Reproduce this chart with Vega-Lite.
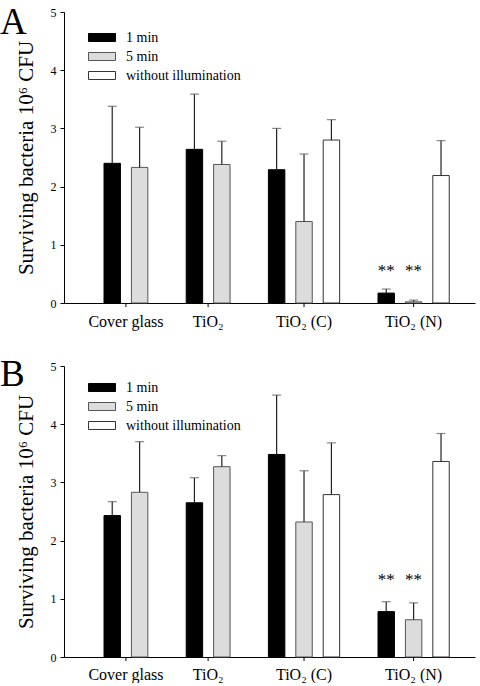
{
  "$schema": "https://vega.github.io/schema/vega-lite/v6.json",
  "padding": {"left": 0, "top": 4, "right": 5, "bottom": 0},
  "background": "white",
  "datasets": {
    "bars": [
      {"panel": "A", "group": "Cover glass", "series": "1 min", "bar": "CG-1", "value": 2.40, "upper": 3.38, "sig": ""},
      {"panel": "A", "group": "Cover glass", "series": "5 min", "bar": "CG-5", "value": 2.33, "upper": 3.02, "sig": ""},
      {"panel": "A", "group": "TiO2", "series": "1 min", "bar": "T-1", "value": 2.64, "upper": 3.59, "sig": ""},
      {"panel": "A", "group": "TiO2", "series": "5 min", "bar": "T-5", "value": 2.38, "upper": 2.78, "sig": ""},
      {"panel": "A", "group": "TiO2 (C)", "series": "1 min", "bar": "TC-1", "value": 2.29, "upper": 3.00, "sig": ""},
      {"panel": "A", "group": "TiO2 (C)", "series": "5 min", "bar": "TC-5", "value": 1.40, "upper": 2.56, "sig": ""},
      {"panel": "A", "group": "TiO2 (C)", "series": "without illumination", "bar": "TC-w", "value": 2.80, "upper": 3.15, "sig": ""},
      {"panel": "A", "group": "TiO2 (N)", "series": "1 min", "bar": "TN-1", "value": 0.17, "upper": 0.24, "sig": "**"},
      {"panel": "A", "group": "TiO2 (N)", "series": "5 min", "bar": "TN-5", "value": 0.02, "upper": 0.05, "sig": "**"},
      {"panel": "A", "group": "TiO2 (N)", "series": "without illumination", "bar": "TN-w", "value": 2.19, "upper": 2.79, "sig": ""},
      {"panel": "B", "group": "Cover glass", "series": "1 min", "bar": "CG-1", "value": 2.43, "upper": 2.67, "sig": ""},
      {"panel": "B", "group": "Cover glass", "series": "5 min", "bar": "CG-5", "value": 2.83, "upper": 3.70, "sig": ""},
      {"panel": "B", "group": "TiO2", "series": "1 min", "bar": "T-1", "value": 2.65, "upper": 3.08, "sig": ""},
      {"panel": "B", "group": "TiO2", "series": "5 min", "bar": "T-5", "value": 3.27, "upper": 3.46, "sig": ""},
      {"panel": "B", "group": "TiO2 (C)", "series": "1 min", "bar": "TC-1", "value": 3.48, "upper": 4.50, "sig": ""},
      {"panel": "B", "group": "TiO2 (C)", "series": "5 min", "bar": "TC-5", "value": 2.32, "upper": 3.20, "sig": ""},
      {"panel": "B", "group": "TiO2 (C)", "series": "without illumination", "bar": "TC-w", "value": 2.79, "upper": 3.68, "sig": ""},
      {"panel": "B", "group": "TiO2 (N)", "series": "1 min", "bar": "TN-1", "value": 0.78, "upper": 0.95, "sig": "**"},
      {"panel": "B", "group": "TiO2 (N)", "series": "5 min", "bar": "TN-5", "value": 0.64, "upper": 0.93, "sig": "**"},
      {"panel": "B", "group": "TiO2 (N)", "series": "without illumination", "bar": "TN-w", "value": 3.36, "upper": 3.84, "sig": ""}
    ],
    "labels": [
      {"label": "Cover glass", "bar": "CG-1", "at": "edge"},
      {"label": "TiO₂", "bar": "T-1", "at": "edge"},
      {"label": "TiO₂ (C)", "bar": "TC-5", "at": "mid"},
      {"label": "TiO₂ (N)", "bar": "TN-5", "at": "mid"}
    ]
  },
  "config": {
    "view": {"stroke": null},
    "font": "Liberation Serif",
    "axis": {"grid": false, "domainColor": "black", "tickColor": "black", "labelColor": "black", "titleColor": "black", "labelFont": "Liberation Serif", "titleFont": "Liberation Serif", "titleFontWeight": "normal"},
    "legend": {"labelFont": "Liberation Serif", "labelFontSize": 14, "labelColor": "black"},
    "title": {"font": "Liberation Serif", "fontWeight": "normal", "color": "black"}
  },
  "resolve": {"scale": {"fill": "independent", "stroke": "independent"}, "legend": {"fill": "independent"}},
  "spacing": 26,
  "vconcat": [
    {
      "width": 411,
      "height": 291,
      "title": {"text": "A", "anchor": "start", "frame": "group", "fontSize": 37, "baseline": "top", "dx": -64, "offset": -36},
      "layer": [
        {
          "data": {"name": "bars"},
          "transform": [{"filter": "datum.panel === 'A'"}],
          "mark": {"type": "bar", "width": {"band": 0.6}, "strokeWidth": 1},
          "encoding": {
            "x": {"field": "bar", "type": "nominal", "scale": {"type": "band", "domain": ["CG-1", "CG-5", "g1", "T-1", "T-5", "g2", "TC-1", "TC-5", "TC-w", "g3", "TN-1", "TN-5", "TN-w"], "paddingInner": 0, "paddingOuter": 1.5, "align": 0.63}, "axis": {"labels": false, "ticks": false, "title": null, "domainColor": "black"}},
            "y": {"field": "value", "type": "quantitative", "scale": {"domain": [0, 5], "nice": false}, "axis": {"values": [0, 1, 2, 3, 4, 5], "format": "d", "tickSize": 4, "labelPadding": 4, "labelFontSize": 12, "title": "Surviving bacteria 10⁶ CFU", "titleFontSize": 21, "titlePadding": 14}},
            "fill": {"field": "series", "type": "nominal", "scale": {"domain": ["1 min", "5 min", "without illumination"], "range": ["#000000", "#dcdcdc", "#ffffff"]}, "legend": {"orient": "none", "legendX": 30.5, "legendY": 18, "title": null, "symbolType": "M-1.93,-0.57H1.93V0.57H-1.93Z", "symbolSize": 196, "symbolStrokeColor": "#333333", "symbolStrokeWidth": 1, "labelFont": "Liberation Serif", "labelFontSize": 14, "labelColor": "black", "labelOffset": 16.5, "rowPadding": 4}},
            "stroke": {"field": "series", "type": "nominal", "scale": {"domain": ["1 min", "5 min", "without illumination"], "range": ["#000000", "#555555", "#333333"]}, "legend": null}
          }
        },
        {
          "data": {"name": "bars"},
          "transform": [{"filter": "datum.panel === 'A'"}],
          "mark": {"type": "rule", "color": "#222222", "strokeWidth": 1.2},
          "encoding": {"x": {"field": "bar", "type": "nominal"}, "y": {"field": "value", "type": "quantitative"}, "y2": {"field": "upper"}}
        },
        {
          "data": {"name": "bars"},
          "transform": [{"filter": "datum.panel === 'A'"}],
          "mark": {"type": "tick", "color": "#555555", "size": 9, "thickness": 1.2},
          "encoding": {"x": {"field": "bar", "type": "nominal"}, "y": {"field": "upper", "type": "quantitative"}}
        },
        {
          "data": {"name": "bars"},
          "transform": [{"filter": "datum.panel === 'A' && datum.sig !== ''"}, {"joinaggregate": [{"op": "max", "field": "upper", "as": "sigTop"}]}],
          "mark": {"type": "text", "fontSize": 17, "baseline": "middle", "dy": -18, "color": "black"},
          "encoding": {"x": {"field": "bar", "type": "nominal"}, "y": {"field": "sigTop", "type": "quantitative"}, "text": {"field": "sig"}}
        },
        {
          "data": {"name": "labels"},
          "transform": [{"filter": "datum.at === 'edge'"}],
          "mark": {"type": "text", "fontSize": 16, "baseline": "middle", "dy": 19, "color": "black"},
          "encoding": {"x": {"field": "bar", "type": "nominal", "bandPosition": 1}, "y": {"datum": 0, "type": "quantitative"}, "text": {"field": "label"}}
        },
        {
          "data": {"name": "labels"},
          "transform": [{"filter": "datum.at === 'mid'"}],
          "mark": {"type": "text", "fontSize": 16, "baseline": "middle", "dy": 19, "color": "black"},
          "encoding": {"x": {"field": "bar", "type": "nominal", "bandPosition": 0.5}, "y": {"datum": 0, "type": "quantitative"}, "text": {"field": "label"}}
        },
        {
          "data": {"name": "labels"},
          "transform": [{"filter": "datum.at === 'edge'"}],
          "mark": {"type": "rule", "color": "black"},
          "encoding": {"x": {"field": "bar", "type": "nominal", "bandPosition": 1}, "y": {"datum": 0, "type": "quantitative"}, "y2": {"datum": -0.07}}
        },
        {
          "data": {"name": "labels"},
          "transform": [{"filter": "datum.at === 'mid'"}],
          "mark": {"type": "rule", "color": "black"},
          "encoding": {"x": {"field": "bar", "type": "nominal", "bandPosition": 0.5}, "y": {"datum": 0, "type": "quantitative"}, "y2": {"datum": -0.07}}
        }
      ]
    },
    {
      "width": 411,
      "height": 291,
      "title": {"text": "B", "anchor": "start", "frame": "group", "fontSize": 37, "baseline": "top", "dx": -64, "offset": -34},
      "layer": [
        {
          "data": {"name": "bars"},
          "transform": [{"filter": "datum.panel === 'B'"}],
          "mark": {"type": "bar", "width": {"band": 0.6}, "strokeWidth": 1},
          "encoding": {
            "x": {"field": "bar", "type": "nominal", "scale": {"type": "band", "domain": ["CG-1", "CG-5", "g1", "T-1", "T-5", "g2", "TC-1", "TC-5", "TC-w", "g3", "TN-1", "TN-5", "TN-w"], "paddingInner": 0, "paddingOuter": 1.5, "align": 0.63}, "axis": {"labels": false, "ticks": false, "title": null, "domainColor": "black"}},
            "y": {"field": "value", "type": "quantitative", "scale": {"domain": [0, 5], "nice": false}, "axis": {"values": [0, 1, 2, 3, 4, 5], "format": "d", "tickSize": 4, "labelPadding": 4, "labelFontSize": 12, "title": "Surviving bacteria 10⁶ CFU", "titleFontSize": 21, "titlePadding": 14}},
            "fill": {"field": "series", "type": "nominal", "scale": {"domain": ["1 min", "5 min", "without illumination"], "range": ["#000000", "#dcdcdc", "#ffffff"]}, "legend": {"orient": "none", "legendX": 30.5, "legendY": 14, "title": null, "symbolType": "M-1.93,-0.57H1.93V0.57H-1.93Z", "symbolSize": 196, "symbolStrokeColor": "#333333", "symbolStrokeWidth": 1, "labelFont": "Liberation Serif", "labelFontSize": 14, "labelColor": "black", "labelOffset": 16.5, "rowPadding": 4}},
            "stroke": {"field": "series", "type": "nominal", "scale": {"domain": ["1 min", "5 min", "without illumination"], "range": ["#000000", "#555555", "#333333"]}, "legend": null}
          }
        },
        {
          "data": {"name": "bars"},
          "transform": [{"filter": "datum.panel === 'B'"}],
          "mark": {"type": "rule", "color": "#222222", "strokeWidth": 1.2},
          "encoding": {"x": {"field": "bar", "type": "nominal"}, "y": {"field": "value", "type": "quantitative"}, "y2": {"field": "upper"}}
        },
        {
          "data": {"name": "bars"},
          "transform": [{"filter": "datum.panel === 'B'"}],
          "mark": {"type": "tick", "color": "#555555", "size": 9, "thickness": 1.2},
          "encoding": {"x": {"field": "bar", "type": "nominal"}, "y": {"field": "upper", "type": "quantitative"}}
        },
        {
          "data": {"name": "bars"},
          "transform": [{"filter": "datum.panel === 'B' && datum.sig !== ''"}, {"joinaggregate": [{"op": "max", "field": "upper", "as": "sigTop"}]}],
          "mark": {"type": "text", "fontSize": 17, "baseline": "middle", "dy": -22, "color": "black"},
          "encoding": {"x": {"field": "bar", "type": "nominal"}, "y": {"field": "sigTop", "type": "quantitative"}, "text": {"field": "sig"}}
        },
        {
          "data": {"name": "labels"},
          "transform": [{"filter": "datum.at === 'edge'"}],
          "mark": {"type": "text", "fontSize": 16, "baseline": "middle", "dy": 18, "color": "black"},
          "encoding": {"x": {"field": "bar", "type": "nominal", "bandPosition": 1}, "y": {"datum": 0, "type": "quantitative"}, "text": {"field": "label"}}
        },
        {
          "data": {"name": "labels"},
          "transform": [{"filter": "datum.at === 'mid'"}],
          "mark": {"type": "text", "fontSize": 16, "baseline": "middle", "dy": 18, "color": "black"},
          "encoding": {"x": {"field": "bar", "type": "nominal", "bandPosition": 0.5}, "y": {"datum": 0, "type": "quantitative"}, "text": {"field": "label"}}
        },
        {
          "data": {"name": "labels"},
          "transform": [{"filter": "datum.at === 'edge'"}],
          "mark": {"type": "rule", "color": "black"},
          "encoding": {"x": {"field": "bar", "type": "nominal", "bandPosition": 1}, "y": {"datum": 0, "type": "quantitative"}, "y2": {"datum": -0.07}}
        },
        {
          "data": {"name": "labels"},
          "transform": [{"filter": "datum.at === 'mid'"}],
          "mark": {"type": "rule", "color": "black"},
          "encoding": {"x": {"field": "bar", "type": "nominal", "bandPosition": 0.5}, "y": {"datum": 0, "type": "quantitative"}, "y2": {"datum": -0.07}}
        }
      ]
    }
  ]
}
